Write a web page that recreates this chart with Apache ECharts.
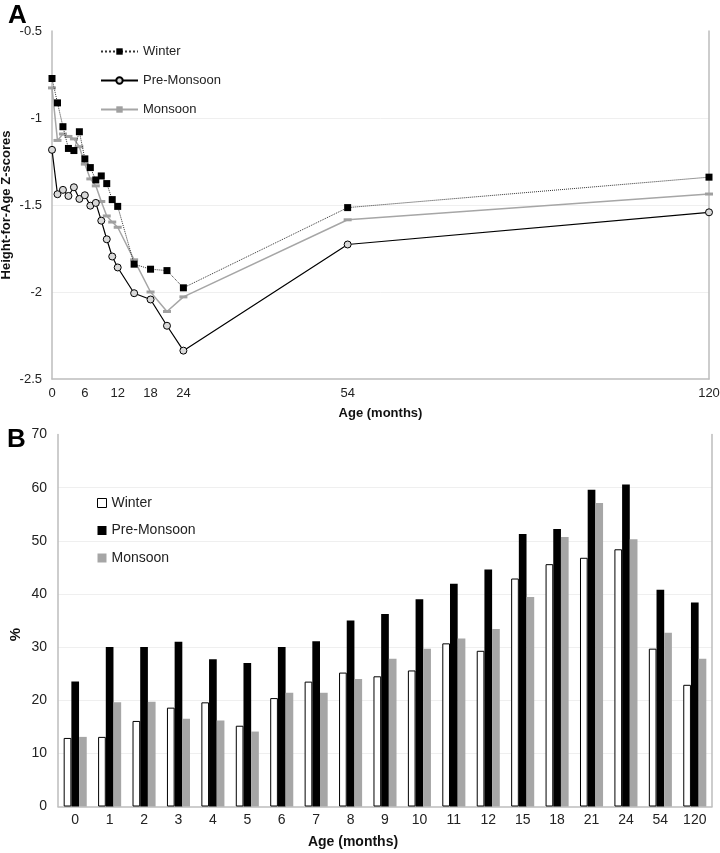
<!DOCTYPE html>
<html>
<head>
<meta charset="utf-8">
<script src="https://cdn.jsdelivr.net/npm/echarts@6/dist/echarts.min.js"></script>
<style>
html,body{margin:0;padding:0;background:#fff;}
#c{width:720px;height:853px;}
</style>
</head>
<body>
<div id="c"></div>
<script>
// ---- Panel A data ----
const ageMonths = [0,1,2,3,4,5,6,7,8,9,10,11,12,15,18,21,24,54,120];
const zWinter = [-0.773,-0.913,-1.05,-1.175,-1.187,-1.079,-1.235,-1.285,-1.356,-1.333,-1.377,-1.469,-1.508,-1.84,-1.869,-1.877,-1.976,-1.515,-1.34];
const zPreMonsoon = [-1.183,-1.438,-1.413,-1.448,-1.398,-1.465,-1.444,-1.504,-1.488,-1.59,-1.697,-1.796,-1.859,-2.007,-2.043,-2.194,-2.337,-1.727,-1.542];
const zMonsoon = [-0.827,-1.129,-1.092,-1.106,-1.12,-1.165,-1.265,-1.35,-1.39,-1.48,-1.563,-1.598,-1.628,-1.815,-2.0,-2.112,-2.028,-1.585,-1.437];
const xTickLabelsA = [0,6,12,18,24,54,120];

// ---- Panel B data ----
const barCategories = ['0','1','2','3','4','5','6','7','8','9','10','11','12','15','18','21','24','54','120'];
const pctWinter = [12.9,13.1,16.1,18.6,19.6,15.2,20.4,23.5,25.2,24.5,25.6,30.7,29.3,42.9,45.6,46.8,48.4,29.7,22.9];
const pctPreMonsoon = [23.5,30.0,30.0,31.0,27.7,27.0,30.0,31.1,35.0,36.2,39.0,41.9,44.6,51.3,52.2,59.6,60.6,40.8,38.4];
const pctMonsoon = [13.1,19.6,19.7,16.5,16.2,14.1,21.4,21.4,24.0,27.8,29.7,31.6,33.4,39.4,50.7,57.1,50.3,32.7,27.8];

const FONT = "'Liberation Sans', Arial, sans-serif";
const AXIS_COL = '#bdbdbd';
const GRID_COL = '#efefef';

const pair = (xs, ys) => xs.map((x, i) => [x, ys[i]]);

const chart = echarts.init(document.getElementById('c'), null, {renderer: 'canvas'});

const option = {
  animation: false,
  backgroundColor: '#fff',
  textStyle: {fontFamily: FONT},
  title: [
    {text: 'A', left: 3, top: -2, textStyle: {fontSize: 26, fontWeight: 'bold', color: '#000', fontFamily: FONT}},
    {text: 'B', left: 2, top: 422, textStyle: {fontSize: 26, fontWeight: 'bold', color: '#000', fontFamily: FONT}}
  ],
  legend: [
    {
      data: ['Winter', 'Pre-Monsoon', 'Monsoon'].map(n => ({name: n})),
      orient: 'vertical', left: 100, top: 45, padding: 0, itemWidth: 37, itemHeight: 8, itemGap: 16, itemTextGap: 3,
      textStyle: {fontSize: 13, color: '#222', fontFamily: FONT},
      selectedMode: false
    },
    {
      data: [
        {name: 'Winter ', icon: 'rect', itemStyle: {color: '#fff', borderColor: '#000', borderWidth: 1}},
        {name: 'Pre-Monsoon ', icon: 'rect'},
        {name: 'Monsoon ', icon: 'rect'}
      ],
      orient: 'vertical', left: 97, top: 496, padding: 0, itemWidth: 9, itemHeight: 9, itemGap: 13.5, itemTextGap: 0,
      textStyle: {fontSize: 14, color: '#222', fontFamily: FONT},
      selectedMode: false
    }
  ],
  grid: [
    {left: 52, top: 31, width: 657, height: 348, outerBoundsMode: 'none', containLabel: false},
    {left: 58, top: 434.5, width: 654, height: 372, outerBoundsMode: 'none', containLabel: false}
  ],
  xAxis: [
    {
      gridIndex: 0, type: 'value', min: 0, max: 120, interval: 6,
      axisLine: {lineStyle: {color: AXIS_COL, width: 1.5}},
      axisTick: {show: false},
      splitLine: {show: false},
      axisLabel: {
        color: '#222', fontSize: 13, margin: 8, fontFamily: FONT, hideOverlap: false,
        formatter: v => xTickLabelsA.indexOf(v) >= 0 ? String(v) : ''
      },
      name: 'Age (months)', nameLocation: 'middle', nameGap: 28, nameMoveOverlap: false,
      nameTextStyle: {fontWeight: 'bold', fontSize: 13, color: '#111', fontFamily: FONT}
    },
    {
      gridIndex: 1, type: 'category', data: barCategories,
      axisLine: {lineStyle: {color: AXIS_COL, width: 1.5}},
      axisTick: {show: false},
      axisLabel: {color: '#222', fontSize: 14, margin: 7, fontFamily: FONT, interval: 0},
      name: 'Age (months)', nameLocation: 'middle', nameGap: 29, nameMoveOverlap: false,
      nameTextStyle: {fontWeight: 'bold', fontSize: 14, color: '#111', fontFamily: FONT, padding: [0, 64, 0, 0]}
    }
  ],
  yAxis: [
    {
      gridIndex: 0, type: 'value', min: -2.5, max: -0.5, interval: 0.5,
      axisLine: {show: true, lineStyle: {color: AXIS_COL, width: 1.5}},
      axisTick: {show: false},
      splitLine: {show: true, lineStyle: {color: ['transparent', GRID_COL, GRID_COL, GRID_COL, 'transparent'], width: 1}},
      axisLabel: {color: '#222', fontSize: 13, margin: 10, fontFamily: FONT},
      name: 'Height-for-Age Z-scores', nameLocation: 'middle', nameGap: 39, nameMoveOverlap: false,
      nameTextStyle: {fontWeight: 'bold', fontSize: 13, color: '#111', fontFamily: FONT}
    },
    {
      gridIndex: 0, type: 'value', min: -2.5, max: -0.5, position: 'right',
      axisLine: {show: true, lineStyle: {color: AXIS_COL, width: 1.5}},
      axisTick: {show: false}, axisLabel: {show: false}, splitLine: {show: false}
    },
    {
      gridIndex: 1, type: 'value', min: 0, max: 70, interval: 10,
      axisLine: {show: true, lineStyle: {color: AXIS_COL, width: 1.5}},
      axisTick: {show: false},
      splitLine: {show: true, lineStyle: {color: ['transparent', GRID_COL, GRID_COL, GRID_COL, GRID_COL, GRID_COL, GRID_COL, 'transparent'], width: 1}},
      axisLabel: {color: '#222', fontSize: 14, margin: 11, fontFamily: FONT},
      name: '%', nameLocation: 'middle', nameGap: 35, nameRotate: 90, nameMoveOverlap: false,
      nameTextStyle: {fontWeight: 'bold', fontSize: 15, color: '#111', fontFamily: FONT, padding: [0, 28, 0, 0]}
    },
    {
      gridIndex: 1, type: 'value', min: 0, max: 70, position: 'right',
      axisLine: {show: true, lineStyle: {color: AXIS_COL, width: 1.5}},
      axisTick: {show: false}, axisLabel: {show: false}, splitLine: {show: false}
    }
  ],
  series: [
    {
      name: 'Winter', type: 'line', xAxisIndex: 0, yAxisIndex: 0,
      data: pair(ageMonths, zWinter),
      symbol: 'rect', symbolSize: 7,
      itemStyle: {color: '#000'},
      lineStyle: {color: '#333', width: 1, type: 'dotted'},
      z: 4
    },
    {
      name: 'Pre-Monsoon', type: 'line', xAxisIndex: 0, yAxisIndex: 0,
      data: pair(ageMonths, zPreMonsoon),
      symbol: 'circle', symbolSize: 7,
      itemStyle: {color: '#d9d9d9', borderColor: '#000', borderWidth: 1},
      lineStyle: {color: '#000', width: 1.2},
      z: 3
    },
    {
      name: 'Monsoon', type: 'line', xAxisIndex: 0, yAxisIndex: 0,
      data: pair(ageMonths, zMonsoon),
      symbol: 'rect', symbolSize: [8, 3],
      itemStyle: {color: '#a0a0a0'},
      lineStyle: {color: '#a6a6a6', width: 1.5},
      z: 2
    },
    {
      name: 'Winter ', type: 'bar', xAxisIndex: 1, yAxisIndex: 2,
      data: pctWinter, barGap: '0%', barCategoryGap: '33%',
      itemStyle: {color: '#fff', borderColor: '#000', borderWidth: 1}
    },
    {
      name: 'Pre-Monsoon ', type: 'bar', xAxisIndex: 1, yAxisIndex: 2,
      data: pctPreMonsoon, barGap: '0%', barCategoryGap: '33%',
      itemStyle: {color: '#000'}
    },
    {
      name: 'Monsoon ', type: 'bar', xAxisIndex: 1, yAxisIndex: 2,
      data: pctMonsoon, barGap: '0%', barCategoryGap: '33%',
      itemStyle: {color: '#a6a6a6'}
    }
  ]
};
chart.setOption(option);
</script>
</body>
</html>
